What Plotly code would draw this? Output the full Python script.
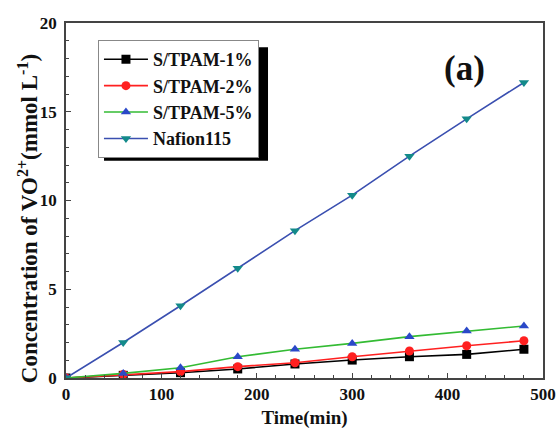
import plotly.graph_objects as go

time = [0, 60, 120, 180, 240, 300, 360, 420, 480]
s1 = [0, 0.15, 0.30, 0.51, 0.79, 1.01, 1.20, 1.33, 1.62]
s2 = [0, 0.20, 0.36, 0.64, 0.86, 1.20, 1.52, 1.82, 2.10]
s5 = [0, 0.26, 0.58, 1.20, 1.62, 1.95, 2.33, 2.65, 2.93]
naf = [0, 2.00, 4.07, 6.18, 8.30, 10.30, 12.50, 14.60, 16.65]

names = ["S/TPAM-1%", "S/TPAM-2%", "S/TPAM-5%", "Nafion115"]
line_colors = ["#000000", "#ff2020", "#33bb33", "#3a4fb0"]
marker_colors = ["#000000", "#ff2020", "#2a48c8", "#138a8a"]
symbols = ["square", "circle", "triangle-up", "triangle-down"]
series = [s1, s2, s5, naf]

fig = go.Figure()
for i, (nm, ys) in enumerate(zip(names, series)):
    fig.add_trace(go.Scatter(
        x=time, y=ys, name=nm, mode="lines+markers",
        legendgroup=nm,
        line=dict(color=line_colors[i], width=1.6),
        marker=dict(symbol=symbols[i], color=marker_colors[i], size=9),
    ))

font_family = "Liberation Serif"
axis_common = dict(
    showline=True, linecolor="#444", linewidth=1.5, mirror=True,
    ticks="inside", ticklen=5, tickwidth=1.2, tickcolor="#444",
    showgrid=False, zeroline=False, automargin=False,
    tickfont=dict(family=font_family, size=17, color="#111", weight="bold"),
    minor=dict(ticks="inside", ticklen=3, tickcolor="#444"),
    ticklabeloverflow="allow",
)

fig.update_layout(
    width=556, height=436,
    margin=dict(l=66, r=13, t=23, b=58),
    paper_bgcolor="white", plot_bgcolor="white",
    font=dict(family=font_family, color="#111"),
    xaxis=dict(range=[0, 500], dtick=100,
               title=dict(text="<b>Time(min)</b>", font=dict(size=19), standoff=8), **axis_common),
    yaxis=dict(range=[0, 20], dtick=5, ticklabelstandoff=4, **axis_common),
    showlegend=True,
    legend=dict(
        x=0.067, y=0.952, xanchor="left", yanchor="top",
        bgcolor="white", bordercolor="#888", borderwidth=1,
        font=dict(family=font_family, size=18, color="#111", weight="bold"),
        traceorder="grouped", tracegroupgap=0,
        itemwidth=44,
    ),
    annotations=[
        dict(x=0.883, y=0.873, xref="paper", yref="paper", text="<b>(a)</b>",
             showarrow=False, font=dict(family=font_family, size=35, color="#111"),
             xanchor="right", yanchor="middle"),
        dict(x=-0.0797, y=0.45, xref="paper", yref="paper", textangle=-90,
             text="<b>Concentration of VO<sup>2+</sup>(mmol L<sup>-1</sup>)</b>",
             showarrow=False, font=dict(family=font_family, size=23, color="#111"),
             xanchor="center", yanchor="middle"),
    ],
    shapes=[dict(
        type="rect", xref="paper", yref="paper",
        x0=0.0797, x1=0.4235, y0=0.612, y1=0.932,
        fillcolor="black", line=dict(width=0), layer="above",
    )],
)

fig.write_html("out.html", post_script="document.body.style.margin='0px';",
               config={"displayModeBar": False})
